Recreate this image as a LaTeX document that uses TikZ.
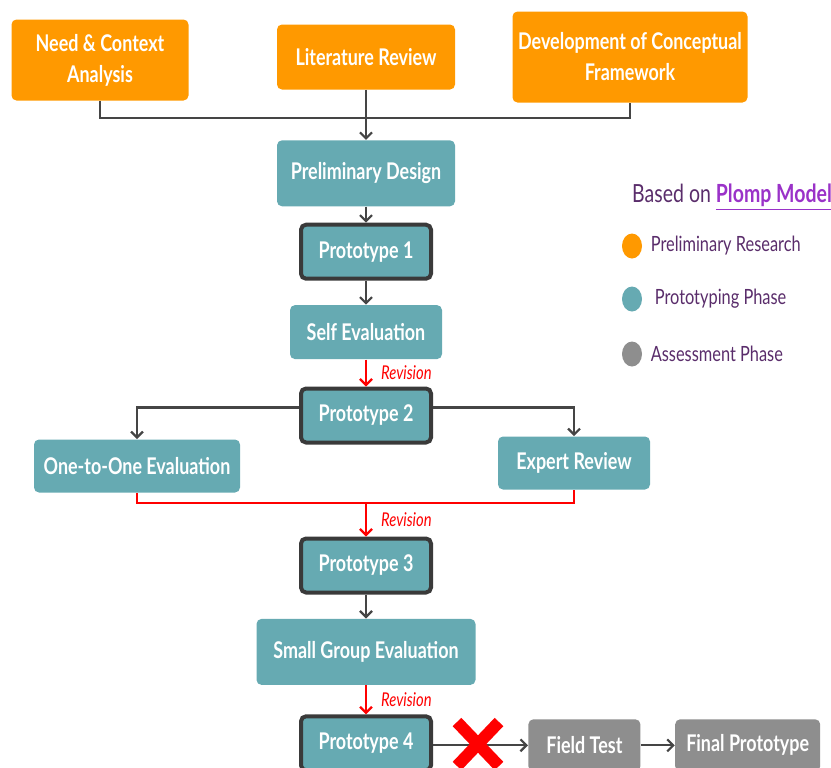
\documentclass[tikz,border=0pt]{standalone}
\usepackage{fontspec}
\usepackage{xcolor}
\usepackage{tikz}
\usetikzlibrary{arrows.meta,positioning,shapes.geometric}

\newfontfamily\plfont{Lato}[FakeStretch=0.78]
\newcommand{\BoxFont}{\plfont\bfseries\fontsize{11.5}{15.5}\selectfont}
\newcommand{\RevFont}{\plfont\itshape\fontsize{9.5}{10}\selectfont}
\newcommand{\KeyFont}{\plfont\fontsize{10.5}{12}\selectfont}
\newcommand{\TitleFont}{\plfont\fontsize{12.5}{14}\selectfont}

\definecolor{plorange}{HTML}{FF9900}
\definecolor{plteal}{HTML}{66AAB2}
\definecolor{plgray}{HTML}{8E8E8E}
\definecolor{pldark}{HTML}{3A3A3A}
\definecolor{plline}{HTML}{454545}
\definecolor{pltext}{HTML}{5A2D6B}
\definecolor{plpurple}{HTML}{9A32C8}

\begin{document}
\begin{tikzpicture}[
  x=0.5pt,y=-0.5pt,
  node distance=8pt and 20pt,
  box/.style={rounded corners=2.5pt,text=white,align=center,font=\BoxFont,inner sep=2pt},
  research/.style={box,fill=plorange},
  proto/.style={box,fill=plteal},
  assess/.style={box,fill=plgray},
  protobox/.style={proto,draw=pldark,line width=2pt,minimum width=65pt,minimum height=27pt},
  flow/.style={-{Straight Barb[length=3pt,width=6pt]},line width=1.1pt,color=plline},
  link/.style={line width=1.4pt,color=plline},
  revflow/.style={flow,color=red},
  revlink/.style={link,line width=1.1pt,color=red},
  rev/.style={font=\RevFont,text=red,inner sep=1pt},
  dot/.style={ellipse,minimum width=10pt,minimum height=12.5pt,inner sep=0pt},
  key/.style={font=\KeyFont,text=pltext,inner sep=0pt}
]
\useasboundingbox (0,0) rectangle (831,767);

% preliminary research
\node[research,minimum width=88.5pt,minimum height=40.5pt] (need) at (100,60) {Need \& Context\\Analysis};
\node[research,minimum width=89pt,minimum height=32.5pt] (lit) at (366,57) {Literature Review};
\node[research,minimum width=117.5pt,minimum height=45.5pt] (dev) at (630,57) {Development of Conceptual\\Framework};
\coordinate (bus) at (366,118);

% prototyping phase
\node[proto,minimum width=89pt,minimum height=33pt,below=25pt of lit] (prelim) {Preliminary Design};
\node[protobox,below=of prelim] (p1) {Prototype 1};
\node[proto,minimum width=76pt,minimum height=27pt,below=12pt of p1] (self) {Self Evaluation};
\node[protobox,below=13.5pt of self] (p2) {Prototype 2};
\node[proto,minimum width=103pt,minimum height=26.5pt] (one) at (137,466) {One-to-One Evaluation};
\node[proto,minimum width=76pt,minimum height=26.5pt] (expert) at (574,463) {Expert Review};
\coordinate (merge) at (366,503);
\node[protobox,below=46pt of p2] (p3) {Prototype 3};
\node[proto,minimum width=109.5pt,minimum height=33pt,below=12pt of p3] (small) {Small Group Evaluation};
\node[protobox,below=14.5pt of small] (p4) {Prototype 4};

% assessment phase
\node[assess,minimum width=56pt,minimum height=26pt,right=47.5pt of p4,yshift=-1pt] (field) {Field Test};
\node[assess,minimum width=72.5pt,minimum height=26pt,right=17pt of field] (final) {Final Prototype};

% connectors
\draw[link] (need.south) |- (bus) -| (dev.south);
\draw[flow] (lit) -- (prelim);
\draw[flow] (prelim) -- (p1);
\draw[flow] (p1) -- (self);
\draw[revflow] (self) -- node[rev,right=6pt]{Revision} (p2);
\draw[flow] ([yshift=4pt]p2.west) -| (one.north);
\draw[flow] ([yshift=4pt]p2.east) -| (expert.north);
\draw[revlink] (one.south) |- (merge) -| (expert.south);
\draw[revflow] (merge) -- node[rev,right=6pt]{Revision} (p3);
\draw[flow] (p3) -- (small);
\draw[revflow] (small) -- node[rev,right=6pt]{Revision} (p4);
\draw[flow] (p4.east |- field) -- (field.west);
\draw[flow] (field) -- (final);
\draw[red,line width=6pt] (457,722) -- (499,766) (457,766) -- (499,722);

% legend
\node[key,font=\TitleFont] (title) at (732,197) {Based on \textcolor{plpurple}{\bfseries\underline{Plomp Model}}};
\node[dot,fill=plorange] (dotres) at (632,246) {};
\node[dot,fill=plteal] (dotproto) at (632,299) {};
\node[dot,fill=plgray] (dotassess) at (632,354) {};
\node[key,right=4pt of dotres] {Preliminary Research};
\node[key,right=6pt of dotproto] {Prototyping Phase};
\node[key,right=4pt of dotassess] {Assessment Phase};
\end{tikzpicture}
\end{document}
